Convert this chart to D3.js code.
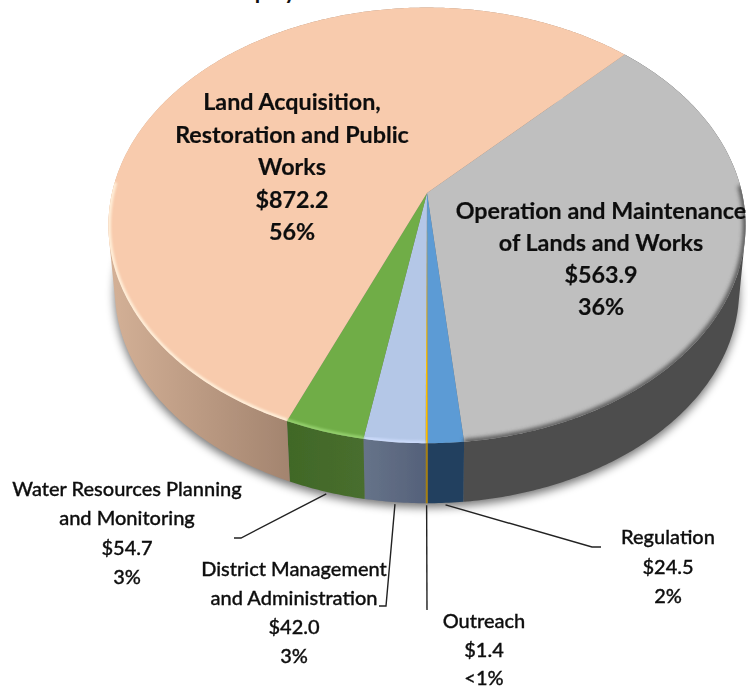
<!DOCTYPE html>
<html>
<head>
<meta charset="utf-8">
<script src="https://cdnjs.cloudflare.com/ajax/libs/d3/7.8.5/d3.min.js"></script>
<style>
html,body{margin:0;padding:0;background:#fff;overflow:hidden;}
svg{display:block;}
text{font-family:Lato,"Open Sans",sans-serif;fill:#111;text-anchor:middle;}
</style>
</head>
<body>
<script>
// clockwise from the orange/grey edge
var categories=['Operation and Maintenance of Lands and Works','Regulation','Outreach','District Management and Administration','Water Resources Planning and Monitoring','Land Acquisition, Restoration and Public Works'];
var values=[563.9,24.5,1.4,42.0,54.7,872.2];
var percents=['36%','2%','<1%','3%','3%','56%'];
var topColors=['#bfbfbf','#5b9bd5','#ffc000','#b4c7e7','#70ad47','#f8cbad'];
var sideColors=['#4d4d4d','#23415f','#a67f0c','url(#sideBlue)','url(#sideGreen)','url(#sideOrange)'];
var rimColors=['#5a5a5a','#5b9bd5','#ffc000','#cbdafa','#93cf6c','#ffeed8'];
var labelLines=[
    ['Operation and Maintenance','of Lands and Works'],
    ['Regulation'],
    ['Outreach'],
    ['District Management','and Administration'],
    ['Water Resources Planning','and Monitoring'],
    ['Land Acquisition,','Restoration and Public','Works']
];

var width=748;
var height=690;
var cx=427;
var apexY=193;
var persp=0.1487;   // how much nearer the front rim is
var rx=315;
var ry=213;
var depth=60;
var bottomScale=0.98;

// where each label sits: centre x, first line centre y, line gap
var labelPos=[
    {x:601,y:211,gap:32,size:23.3,bold:true},
    {x:668,y:537,gap:29.5,size:20},
    {x:484,y:621,gap:28.5,size:20},
    {x:294,y:569,gap:29,size:20},
    {x:127,y:489,gap:29.3,size:20},
    {x:292,y:102,gap:32.5,size:23.3,bold:true}
];
// leader elbows, index into the slices
var leaders=[
    {i:1,elbow:[592,547],end:[601,547]},
    {i:2,elbow:[427,610],end:[427,610]},
    {i:3,elbow:[386,606],end:[379,606]},
    {i:4,elbow:[241,538],end:[234,538]}
];

var xScale=d3.scaleLinear().domain([-1,1]).range([cx-rx,cx+rx]);
var yScale=d3.scaleLinear().domain([-1,1]).range([apexY-ry,apexY+ry]);

function rim(angle,lower){
    var u=Math.sin(angle),v=-Math.cos(angle);
    var w=1-persp*v;
    var s=lower?bottomScale:1;
    var x=cx+(xScale(u/w)-cx)*s;
    var y=apexY+(yScale(v/w)-apexY)*s;
    return [x,lower?y+depth+(1-s)*ry*1.18:y];
}
function samples(a0,a1){
    var n=Math.max(2,Math.ceil(Math.abs(a1-a0)/0.01));
    return d3.range(n+1).map(function(k){return a0+(a1-a0)*k/n;});
}
var line=d3.line();

var pie=d3.pie().sort(null).startAngle(44*Math.PI/180).endAngle(404*Math.PI/180);
var slices=pie(values);

var svg=d3.select('body').append('svg').attr('width',width).attr('height',height);
var defs=svg.append('defs');

function blur(id,sd){
    defs.append('filter').attr('id',id)
    .attr('x','-20%').attr('y','-20%').attr('width','140%').attr('height','140%')
    .append('feGaussianBlur').attr('stdDeviation',sd);
}
blur('shadowBlur',5);
blur('rimBlur',1);
blur('greyBlur',2);
blur('textBlur',0.45);
blur('edgeBlur',0.4);

function hGradient(id,x1,x2,c1,c2){
    var g=defs.append('linearGradient').attr('id',id)
    .attr('gradientUnits','userSpaceOnUse')
    .attr('x1',x1).attr('x2',x2).attr('y1',0).attr('y2',0);
    g.append('stop').attr('offset',0).attr('stop-color',c1);
    g.append('stop').attr('offset',1).attr('stop-color',c2);
}
hGradient('sideOrange',cx-rx,rim(slices[5].startAngle,true)[0],'#d3b096','#a3846f');
hGradient('sideGreen',rim(slices[4].endAngle,true)[0],rim(slices[4].startAngle,true)[0],'#416827','#486e2e');
hGradient('sideBlue',rim(slices[3].endAngle,true)[0],rim(slices[3].startAngle,true)[0],'#667389','#55617a');

// soft shadow under the disc
var all=samples(0,Math.PI*2);
svg.append('path')
.attr('d',line(all.map(function(a){return rim(a,true);}))+'Z')
.attr('transform','translate(0,4)')
.attr('fill','#000')
.attr('opacity',0.55)
.attr('filter','url(#shadowBlur)');

var pieGroup=svg.append('g').attr('filter','url(#edgeBlur)');

// side walls, one quad per step, all wound the same way so they never cancel
function wallPath(d){
    var as=samples(d.startAngle,d.endAngle);
    var out='';
    for(var k=0;k<as.length-1;k++){
        var q=[rim(as[k],false),rim(as[k+1],false),rim(as[k+1],true),rim(as[k],true)];
        if(d3.polygonArea(q)<0){q.reverse();}
        out+=line(q)+'Z';
    }
    return out;
}
pieGroup.selectAll('path.wall')
.data(slices)
.enter()
.append('path')
.attr('class','wall')
.attr('d',wallPath)
.attr('fill',function(d,i){return sideColors[i];});

pieGroup.selectAll('path.face')
.data(slices)
.enter()
.append('path')
.attr('class','face')
.attr('d',function(d){
    return line([[cx,apexY]].concat(samples(d.startAngle,d.endAngle).map(function(a){return rim(a,false);})))+'Z';
})
.attr('fill',function(d,i){return topColors[i];});

// bevel along the front rim
var rimClip=defs.append('clipPath').attr('id','faceClip');
rimClip.append('path').attr('d',line(all.map(function(a){return rim(a,false);}))+'Z');

var bevel=svg.append('g').attr('clip-path','url(#faceClip)');
bevel.selectAll('path')
.data(slices)
.enter()
.append('path')
.attr('d',function(d,i){
    var a0=d.startAngle,a1=d.endAngle;
    if(i==0){a0=88*Math.PI/180;}       // upper right has no dark edge
    if(i==5){a1=Math.PI*2*0.75+0.05;}  // highlight stops at the left edge
    return line(samples(a0,a1).map(function(a){return rim(a,false);}));
})
.attr('fill','none')
.attr('stroke',function(d,i){return i==0?'#4d4d4d':rimColors[i];})
.attr('stroke-width',5)
.attr('opacity',function(d,i){return (i==1||i==2)?0:1;})
.attr('filter',function(d,i){return i==0?'url(#greyBlur)':'url(#rimBlur)';});

// leader lines
svg.selectAll('path.leader')
.data(leaders)
.enter()
.append('path')
.attr('class','leader')
.attr('d',function(d){
    var p=rim((slices[d.i].startAngle+slices[d.i].endAngle)/2,true);
    return line([[p[0],p[1]+2],d.elbow,d.end]);
})
.attr('fill','none')
.attr('stroke','#222')
.attr('stroke-width',1.4);

// labels
var labels=svg.append('g').attr('filter','url(#textBlur)');
labelPos.forEach(function(pos,i){
    var rows=labelLines[i].concat(['$'+values[i].toFixed(1),percents[i]]);
    labels.selectAll(null)
    .data(rows)
    .enter()
    .append('text')
    .attr('x',pos.x)
    .attr('y',function(d,k){return pos.y+k*pos.gap;})
    .attr('dy','0.35em')
    .attr('font-size',pos.size)
    .attr('font-weight',pos.bold?700:500)
    .attr('stroke','#111')
    .attr('stroke-width',pos.bold?0.2:0.35)
    .text(function(d){return d;});
});

// the title is cropped by the top edge, only two descenders show
svg.append('text').attr('x',261).attr('y',-1).attr('font-size',22).attr('font-weight',700).text('p');
svg.append('text').attr('x',290).attr('y',-1).attr('font-size',22).attr('font-weight',700).text('y');
</script>
</body>
</html>
